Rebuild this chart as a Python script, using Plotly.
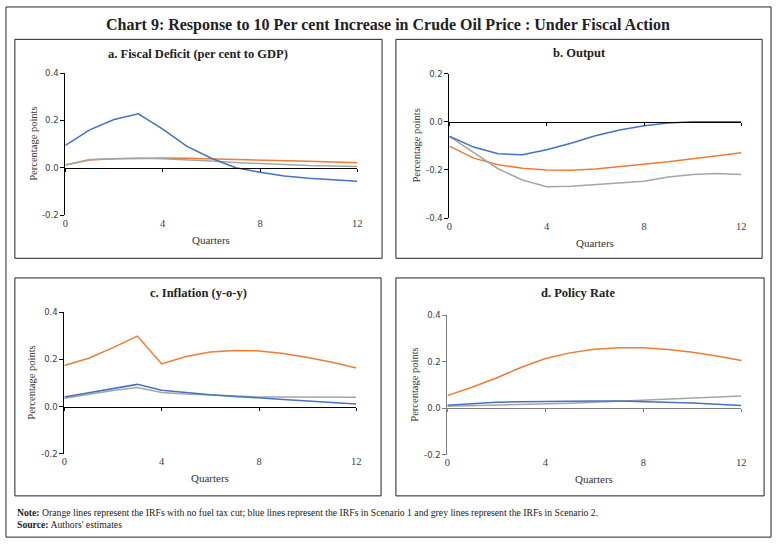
import plotly.graph_objects as go

W, H = 779, 548
quarters = list(range(13))

# Panel a: Fiscal Deficit
a_orange = [0.012, 0.033, 0.038, 0.040, 0.041, 0.040, 0.038, 0.036, 0.033, 0.030, 0.027, 0.024, 0.021]
a_blue = [0.094, 0.160, 0.204, 0.228, 0.163, 0.090, 0.040, 0.000, -0.019, -0.035, -0.044, -0.051, -0.057]
a_grey = [0.012, 0.035, 0.038, 0.040, 0.038, 0.034, 0.028, 0.022, 0.017, 0.012, 0.009, 0.007, 0.005]

# Panel b: Output
b_orange = [-0.101, -0.151, -0.178, -0.193, -0.200, -0.201, -0.196, -0.186, -0.177, -0.166, -0.153, -0.141, -0.129]
b_blue = [-0.060, -0.105, -0.133, -0.137, -0.116, -0.089, -0.058, -0.034, -0.016, -0.005, 0.000, 0.001, 0.000]
b_grey = [-0.060, -0.126, -0.195, -0.242, -0.270, -0.268, -0.260, -0.253, -0.247, -0.229, -0.219, -0.215, -0.219]

# Panel c: Inflation
c_orange = [0.174, 0.205, 0.250, 0.299, 0.181, 0.212, 0.231, 0.238, 0.236, 0.225, 0.208, 0.188, 0.164]
c_blue = [0.040, 0.057, 0.075, 0.094, 0.069, 0.058, 0.050, 0.043, 0.035, 0.030, 0.024, 0.017, 0.011]
c_grey = [0.035, 0.052, 0.068, 0.081, 0.060, 0.053, 0.048, 0.044, 0.041, 0.040, 0.039, 0.039, 0.039]

# Panel d: Policy Rate
d_orange = [0.054, 0.090, 0.130, 0.175, 0.214, 0.238, 0.254, 0.260, 0.260, 0.253, 0.241, 0.225, 0.205]
d_blue = [0.013, 0.020, 0.025, 0.028, 0.030, 0.031, 0.031, 0.031, 0.029, 0.026, 0.022, 0.017, 0.012]
d_grey = [0.008, 0.010, 0.012, 0.015, 0.018, 0.021, 0.025, 0.029, 0.033, 0.038, 0.043, 0.048, 0.052]

x_ticks = [0, 4, 8, 12]
titles = ["a. Fiscal Deficit (per cent to GDP)", "b. Output", "c. Inflation (y-o-y)", "d. Policy Rate"]
y_ranges = [[-0.2, 0.4], [-0.4, 0.2], [-0.2, 0.4], [-0.2, 0.4]]
y_ticks = [[-0.2, 0.0, 0.2, 0.4], [-0.4, -0.2, 0.0, 0.2], [-0.2, 0.0, 0.2, 0.4], [-0.2, 0.0, 0.2, 0.4]]
series = [(a_orange, a_blue, a_grey), (b_orange, b_blue, b_grey),
          (c_orange, c_blue, c_grey), (d_orange, d_blue, d_grey)]

ORANGE, BLUE, GREY = "#ED7D31", "#4472C4", "#A5A5A5"

def px(x):
    return x / W

def py(y):
    return 1 - y / H

# plot-area pixel geometry: (x0, x1, y_top, y_bottom)
geo = [(63, 358, 69.3, 214), (451, 746, 70, 217), (62, 357, 313, 457), (449, 746, 316, 458)]
boxes = [(12, 383, 35, 258), (397, 767, 35, 258), (12, 382, 278, 500), (397, 769, 278, 500)]
title_pos = [(197, 50), (582, 49), (198, 293), (581, 293)]
axis_col = ["#000000", "#000000", "#000000", "#808080"]

fig = go.Figure()
serif = "Liberation Serif"
ytickfont = dict(family="DejaVu Sans", size=8.5, color="#404040")
xtickfont = dict(family=serif, size=10.5, color="#404040")

annotations = []
shapes = []
for i in range(4):
    n = i + 1
    xs = "x" if n == 1 else f"x{n}"
    ys = "y" if n == 1 else f"y{n}"
    o, b, g = series[i]
    for vals, col in ((o, ORANGE), (g, GREY), (b, BLUE)):
        fig.add_trace(go.Scatter(x=quarters, y=vals, xaxis=xs, yaxis=ys, mode="lines",
                                 line=dict(color=col, width=1.5), showlegend=False,
                                 hoverinfo="skip"))
    x0, x1, yt, yb = geo[i]
    lo, hi = y_ranges[i]
    fig.layout[f"xaxis{n}" if n > 1 else "xaxis"] = dict(
        domain=[px(x0), px(x1)], range=[0, 12], anchor=ys, tickvals=x_ticks,
        showgrid=False, zeroline=False, showline=False, ticks="", tickfont=xtickfont,
        fixedrange=True)
    fig.layout[f"yaxis{n}" if n > 1 else "yaxis"] = dict(
        domain=[py(yb), py(yt)], range=[lo, hi], anchor=xs, tickvals=y_ticks[i],
        ticktext=[f"{v:.1f}" for v in y_ticks[i]],
        showgrid=False, zeroline=False, showline=True, linecolor=axis_col[i], linewidth=1,
        ticks="outside", ticklen=4, tickcolor=axis_col[i], tickfont=ytickfont, fixedrange=True)
    # secondary x axis drawn along zero line with tick marks
    zero_y = yt + (hi - 0) / (hi - lo) * (yb - yt)
    fig.layout[f"xaxis{n + 4}"] = dict(
        domain=[px(x0), px(x1)], range=[0, 12], overlaying=xs, anchor="free",
        position=py(zero_y), tickvals=x_ticks, showticklabels=False, showgrid=False,
        zeroline=False, showline=True, linecolor=axis_col[i], linewidth=1,
        ticks="outside", ticklen=3, tickcolor=axis_col[i], fixedrange=True)
    fig.add_trace(go.Scatter(x=[0], y=[0], xaxis=f"x{n + 4}", yaxis=ys, mode="markers",
                             marker=dict(opacity=0), showlegend=False, hoverinfo="skip"))
    bx0, bx1, by0, by1 = boxes[i]
    shapes.append(dict(type="rect", xref="paper", yref="paper", x0=px(bx0), x1=px(bx1),
                       y0=py(by1), y1=py(by0), line=dict(color="#222222", width=1)))
    tx, ty = title_pos[i]
    annotations.append(dict(text=f"<b>{titles[i]}</b>", x=px(tx), y=py(ty), xref="paper", yref="paper",
                            xanchor="center", yanchor="middle", showarrow=False,
                            font=dict(family=serif, size=12.5, color="#222222")))
    annotations.append(dict(text="Quarters", x=px((x0 + x1) / 2), y=py(yb + 25), xref="paper",
                            yref="paper", xanchor="center", yanchor="middle", showarrow=False,
                            font=dict(family=serif, size=11, color="#333333")))
    annotations.append(dict(text="Percentage points", x=px(x0 - 33), y=py((yt + yb) / 2),
                            xref="paper", yref="paper", xanchor="center", yanchor="middle",
                            showarrow=False, textangle=-90,
                            font=dict(family=serif, size=10.5, color="#333333")))

# outer frame
shapes.append(dict(type="rect", xref="paper", yref="paper", x0=px(3), x1=px(776),
                   y0=py(542), y1=py(2), line=dict(color="#222222", width=1)))

annotations.append(dict(text="<b>Chart 9: Response to 10 Per cent Increase in Crude Oil Price : Under Fiscal Action</b>",
                        x=px(389), y=py(20), xref="paper", yref="paper", xanchor="center",
                        yanchor="middle", showarrow=False,
                        font=dict(family=serif, size=16, color="#222222")))
annotations.append(dict(text="<b>Note:</b> Orange lines represent the IRFs with no fuel tax cut; blue lines represent the IRFs in Scenario 1 and grey lines represent the IRFs in Scenario 2.",
                        x=px(12), y=py(517), xref="paper", yref="paper", xanchor="left",
                        yanchor="middle", showarrow=False,
                        font=dict(family=serif, size=9.7, color="#222222")))
annotations.append(dict(text="<b>Source:</b> Authors' estimates",
                        x=px(12), y=py(529), xref="paper", yref="paper", xanchor="left",
                        yanchor="middle", showarrow=False,
                        font=dict(family=serif, size=9.7, color="#222222")))

fig.update_layout(width=W, height=H, margin=dict(l=0, r=0, t=0, b=0),
                  paper_bgcolor="white", plot_bgcolor="white",
                  annotations=annotations, shapes=shapes, showlegend=False)

fig.write_html("out.html", config={"displayModeBar": False},
               post_script="document.body.style.margin='0';document.body.style.overflow='hidden';")
